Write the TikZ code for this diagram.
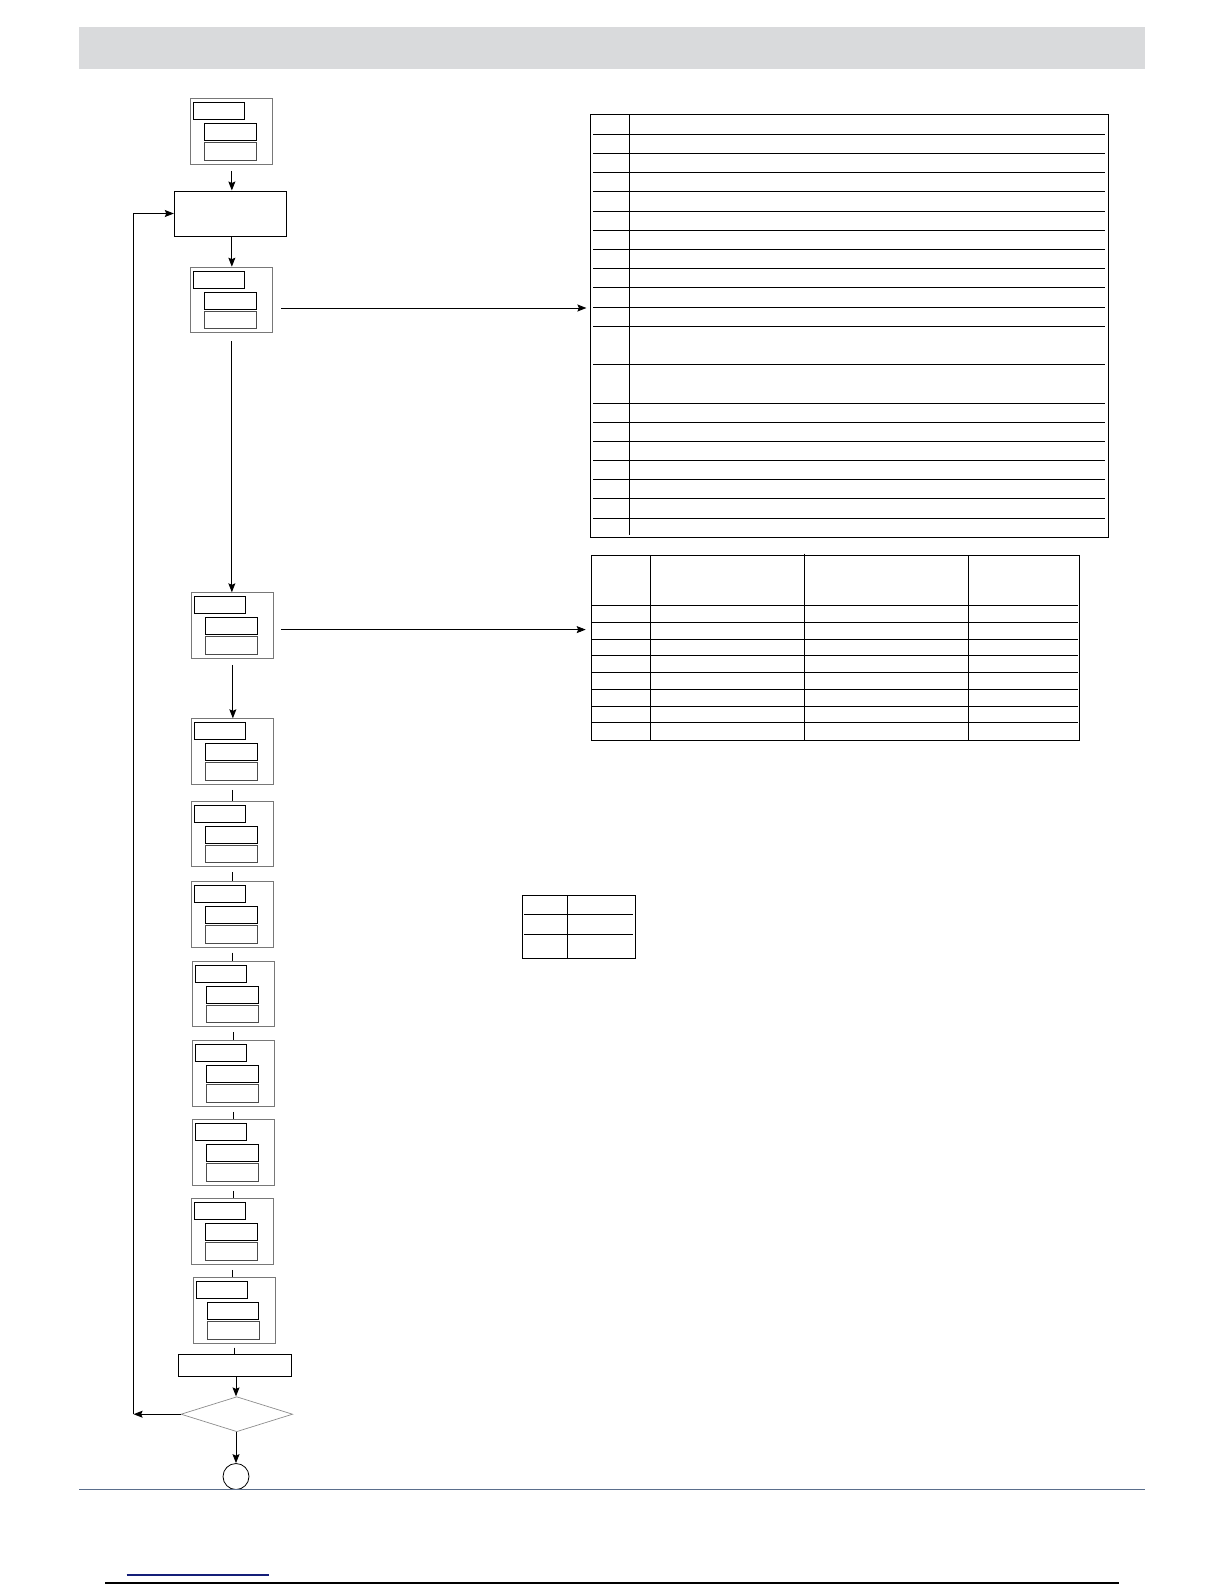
\documentclass[tikz,border=0pt]{standalone}
\usetikzlibrary{arrows.meta,shapes.geometric}
\definecolor{hdr}{RGB}{217,218,220}
\definecolor{boxgray}{RGB}{120,120,120}
\definecolor{rulegray}{RGB}{90,110,140}
\definecolor{navy}{RGB}{20,30,120}
\begin{document}
\begin{tikzpicture}[x=1pt,y=-1pt,
  outerbox/.style={draw=boxgray, line width=1.1pt, minimum width=82pt, minimum height=65.5pt, inner sep=0pt, anchor=north west},
  lblbox/.style={draw=black, line width=0.9pt, minimum width=51pt, minimum height=17pt, inner sep=0pt, anchor=north west},
  valbox/.style={draw=black, line width=0.9pt, minimum width=51.5pt, minimum height=17pt, inner sep=0pt, anchor=north west},
  valboxb/.style={draw=black!70, line width=0.9pt, minimum width=52pt, minimum height=17.5pt, inner sep=0pt, anchor=north west},
  plainbox/.style={draw=black, line width=1pt, inner sep=0pt},
  tbl/.style={draw=black, line width=1.05pt, inner sep=0pt, anchor=north west},
  tline/.style={line width=0.95pt},
  arr/.style={line width=0.9pt, -{Stealth[length=9pt,width=7pt,inset=1.5pt]}},
  link/.style={line width=0.9pt}]
\useasboundingbox (0,0) rectangle (1224,1584);

% header band
\fill[hdr] (79,26.7) rectangle (1145,69);

% step boxes
\foreach \n/\L/\T in {1/190.3/98.3, 2/190.3/266.7, 3/191.3/592.3, 4/191.3/718.3, 5/191.3/800.7, 6/191.3/881, 7/192/960.7, 8/192/1040.3, 9/192.3/1119.3, 10/191.3/1198.3, 11/192.7/1277}{
  \node[outerbox] (b\n) at (\L,\T) {};
  \node[lblbox] (b\n l) at ([shift={(3,4)}]b\n.north west) {};
  \node[valbox] (b\n v) at ([shift={(14,25)}]b\n.north west) {};
  \node[valboxb] (b\n w) at ([shift={(14,44)}]b\n.north west) {};
}

% plain boxes
\node[plainbox, minimum width=112pt, minimum height=45pt] (r1) at (230.3,213.5) {};
\node[plainbox, minimum width=112.7pt, minimum height=21.3pt] (r2) at (235.3,1365.6) {};
\node[diamond, draw=black!45, line width=0.7pt, minimum width=111.7pt, minimum height=35pt, inner sep=0pt] (d) at (236.8,1414.2) {};
\node[circle, draw=black, line width=0.8pt, minimum size=26pt, inner sep=0pt] (c) at (236,1476.5) {};

% table 1
\node[tbl, minimum width=517.6pt, minimum height=422.7pt] (t1) at (590.4,114.3) {};
\draw[tline] (629.5,114.3) -- (629.5,535);
\foreach \y in {134.3,153.3,172.3,191.3,211.3,230.3,249.3,268.3,287.3,307.3,326.3,364.3,403.3,422.3,441.3,460.3,479.3,498.3,518.3}
  \draw[tline] (593,\y) -- (1105,\y);

% table 2
\node[tbl, minimum width=488.6pt, minimum height=185.3pt] (t2) at (590.7,555) {};
\draw[tline] (650.3,555) -- (650.3,740.3);
\draw[tline] (804.3,553.5) -- (804.3,740.3);
\draw[tline] (968.3,555) -- (968.3,740.3);
\foreach \y in {605.3,622.3,639.3,655.3,672.3,689.3,706.3,722.3}
  \draw[tline] (592,\y) -- (1077.7,\y);

% table 3
\node[tbl, minimum width=113pt, minimum height=63.3pt] (t3) at (522.3,895) {};
\draw[tline] (567.3,895) -- (567.3,958.3);
\foreach \y in {914,934}
  \draw[tline] (524,\y) -- (633,\y);

% connectors
\draw[arr, shorten <=6pt] (b1.south) -- (b1.south |- r1.north);
\draw[arr] (b2.north |- r1.south) -- (b2.north);
\draw[arr, shorten <=8pt] (b2.south) -- (b2.south |- b3.north);
\draw[arr, shorten <=6pt] (b3.south) -- (b3.south |- b4.north);
\foreach \a/\b in {4/5,5/6,6/7,7/8,8/9,9/10,10/11}
  \draw[link, shorten <=5pt] (b\a.south) -- (b\a.south |- b\b.north);
\draw[link, shorten <=4pt] (b11.south) -- (b11.south |- r2.north);
\draw[arr] (r2.south -| c.north) -- (c.north |- d.north);
\draw[arr] (c.north |- d.south) -- (c.north);

\coordinate (p1) at ([shift={(8,8)}]b2.east);
\draw[arr, shorten >=4pt] (p1) -- (p1 -| t1.west);
\coordinate (p2) at ([shift={(7,4)}]b3.east);
\draw[arr, shorten >=5pt] (p2) -- (p2 -| t2.west);

\path (d.west) ++(-47,0) coordinate (c1);
\draw[arr] (d.west) -- (c1);
\draw[arr] (c1) -- (c1 |- r1.west) -- (r1.west);

% footer rules
\draw[rulegray, line width=1pt] (79,1489.3) -- (1145,1489.3);
\draw[navy, line width=1.2pt] (126.7,1575) -- (269,1575);
\draw[black, line width=1.3pt] (105,1583) -- (1119,1583);
\end{tikzpicture}
\end{document}
